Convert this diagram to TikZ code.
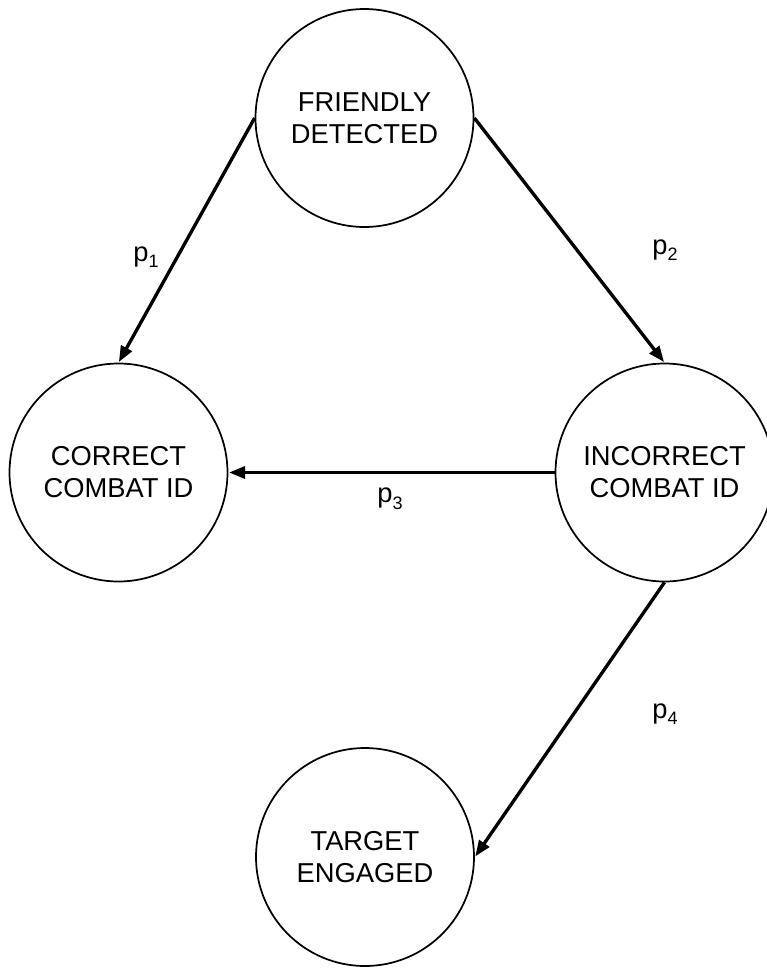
\documentclass[tikz,border=0pt]{standalone}
\usepackage{fontspec}
\setmainfont{Liberation Sans}
\usetikzlibrary{arrows.meta}
\begin{document}
\begin{tikzpicture}[x=0.75pt,y=-0.75pt,
  state/.style={circle,draw,line width=1.3pt,minimum size=163.5pt,inner sep=0pt,
    align=center,font=\fontsize{20.5}{24}\selectfont},
  flow/.style={line width=2.5pt,-{Triangle[length=12pt,width=9pt]},shorten >=0.5pt},
  prob/.style={font=\fontsize{20.5}{24}\selectfont,inner sep=0pt}]
\useasboundingbox (0,0) rectangle (767,968);
\newcommand{\plabel}[1]{p\raisebox{-5pt}{\fontsize{13.5}{13.5}\selectfont #1}}
\node[state] (fd) at (364.5,118) {FRIENDLY\\DETECTED};
\node[state] (cc) at (118.5,472.5) {CORRECT\\COMBAT ID};
\node[state] (ic) at (664.5,472.5) {INCORRECT\\COMBAT ID};
\node[state] (te) at (365,857) {TARGET\\ENGAGED};
\draw[flow] (fd.west) -- (cc.north);
\draw[flow] (fd.east) -- (ic.north);
\draw[flow] (ic.west) -- (cc.east);
\draw[flow] (ic.south) -- (te.east);
\node[prob] (p1) at (146,257) {\plabel{1}};
\node[prob] (p2) at (665,250) {\plabel{2}};
\node[prob] (p3) at (390,499) {\plabel{3}};
\node[prob] (p4) at (665,714) {\plabel{4}};
\end{tikzpicture}
\end{document}
